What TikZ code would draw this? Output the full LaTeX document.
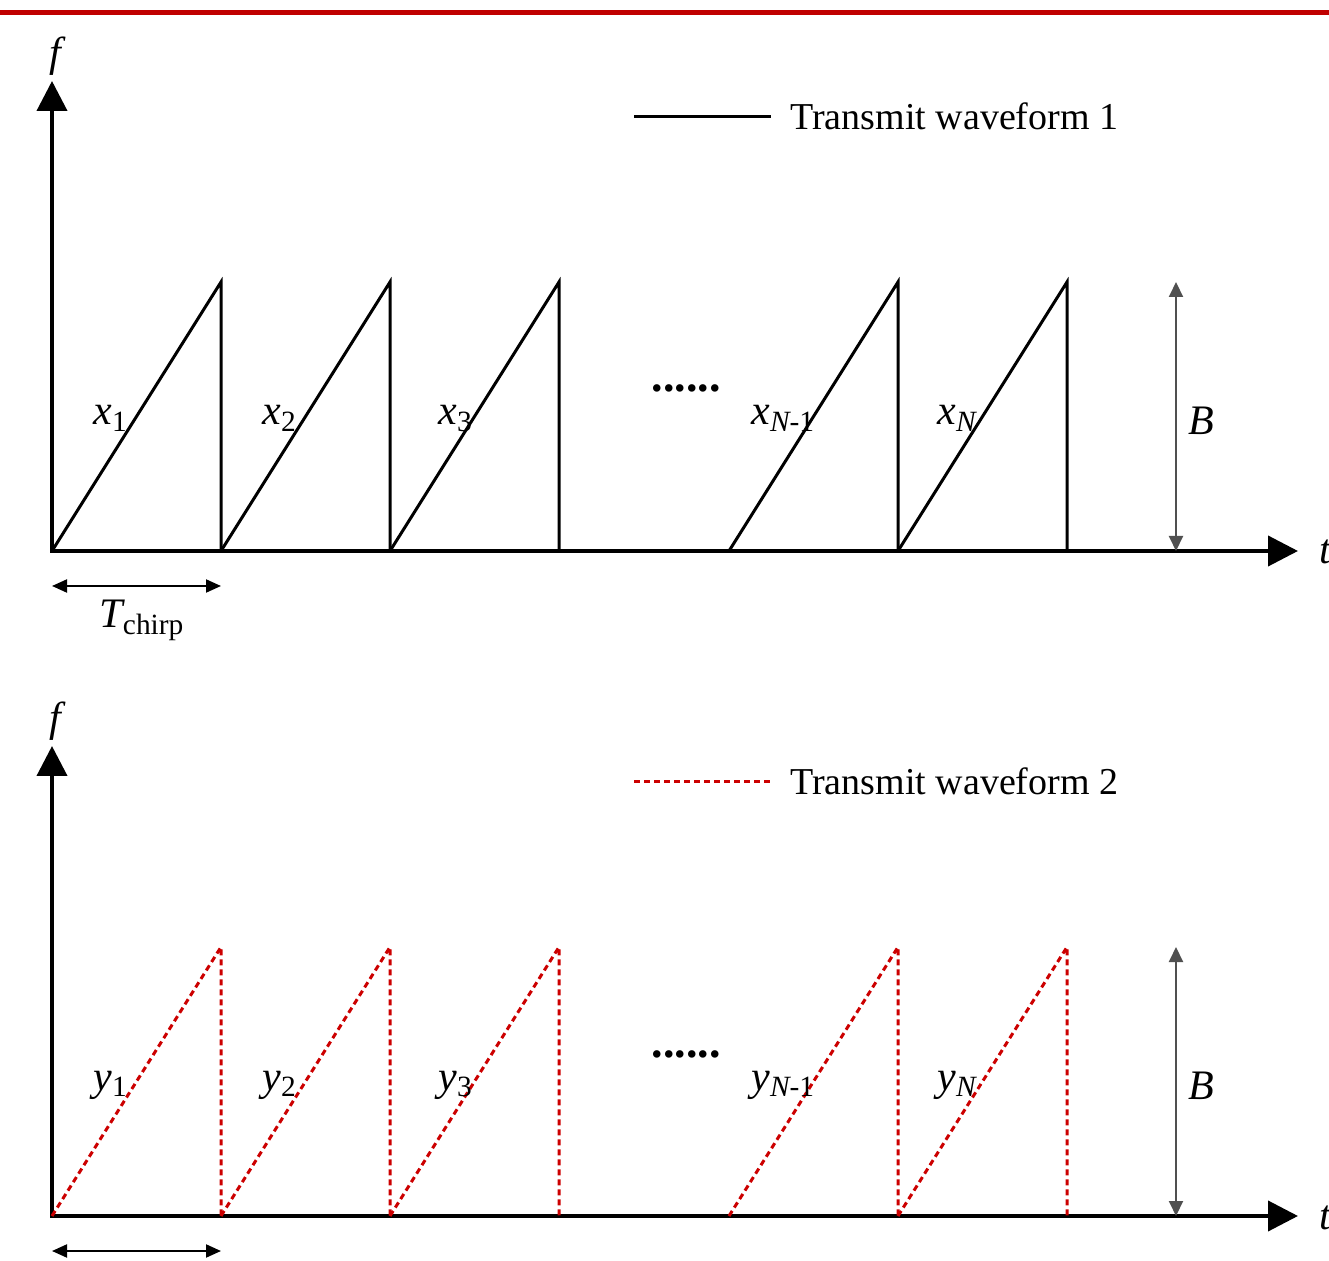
\documentclass[tikz,border=0pt]{standalone}
\usepackage{fontspec}
\setmainfont{Liberation Serif}
\usetikzlibrary{arrows.meta, positioning}
\definecolor{RuleRed}{RGB}{192, 0,   0}
\definecolor{WaveRed}{RGB}{204, 0,   0}
\definecolor{BarGray}{RGB}{80,  80,  80}

\begin{document}
\begin{tikzpicture}[
  x=0.5pt, y=-0.5pt,
  axis/.style = {line width=2pt,
    {Triangle[length=15pt, width=15pt]}-{Triangle[length=15pt, width=15pt]}},
  wave1/.style = {line width=1.5pt, black, line join=miter},
  wave2/.style = {line width=1.5pt, WaveRed, dash pattern=on 3pt off 2pt},
  bar/.style = {line width=1pt, color=BarGray,
    {Triangle[length=7.5pt, width=7pt]}-{Triangle[length=7.5pt, width=7pt]}},
  span/.style = {line width=1pt, black,
    {Triangle[length=7.5pt, width=6.5pt]}-{Triangle[length=7.5pt, width=6.5pt]}},
  lbl/.style = {font=\fontsize{21}{24}\selectfont\itshape, inner sep=0pt},
  txt/.style = {font=\fontsize{19}{22}\selectfont, inner sep=0pt}
]
\useasboundingbox (0,0) rectangle (1329,1261);

% top rule
\coordinate (rl) at (0,12.5);
\coordinate (rr) at (1329,12.5);
\draw[RuleRed, line width=2.5pt] (rl) -- (rr);

% two panels, one per waveform
\foreach \p/\dy/\v in {1/0/x, 2/665/y} {
  \begin{scope}[shift={(0,\dy)}]
    % axes
    \coordinate (o\p) at (52,551);
    \coordinate (ftop\p) at (52,81);
    \coordinate (tend\p) at (1298,551);
    \draw[axis] (ftop\p) -- (o\p) -- (tend\p);
    \node[lbl] (f\p) at (55,56) {f};
    \node[lbl, anchor=base west] (t\p) at (1319,564) {t};

    % chirps
    \foreach \a/\b in {52/221, 221/390, 390/559, 729/898, 898/1067}
      \draw[wave\p] (\a,551) -- (\b,282) -- (\b,551);

    \node[lbl, anchor=base west] (c1\p) at (93,425) {\v\textsubscript{\upshape 1}};
    \node[lbl, anchor=base west] (c2\p) at (262,425) {\v\textsubscript{\upshape 2}};
    \node[lbl, anchor=base west] (c3\p) at (438,425) {\v\textsubscript{\upshape 3}};
    \node[lbl, anchor=base west] (cm\p) at (751,425) {\v\textsubscript{N\upshape -1}};
    \node[lbl, anchor=base west] (cn\p) at (937,425) {\v\textsubscript{N}};
    \node[lbl, font=\fontsize{23}{24}\selectfont\bfseries, anchor=base] (dots\p) at (686,392) {......};

    % bandwidth
    \coordinate (btop\p) at (1176,282);
    \coordinate (bbot\p) at (1176,551);
    \draw[bar] (btop\p) -- (bbot\p);
    \node[lbl] (b\p) at (1201,421) {B};

    % chirp duration
    \coordinate (tl\p) at (52,586);
    \coordinate (tr\p) at (221,586);
    \draw[span] (tl\p) -- (tr\p);

    % legend
    \coordinate (ll\p) at (634,117);
    \coordinate (lr\p) at (771,117);
    \draw[wave\p] (ll\p) -- (lr\p);
    \node[txt, anchor=base west] (leg\p) at (790,130) {Transmit waveform \p};
  \end{scope}
}

\node[lbl, below=7pt of tl1, xshift=45pt] (tc) {T\textsubscript{\upshape chirp}};

\end{tikzpicture}
\end{document}
